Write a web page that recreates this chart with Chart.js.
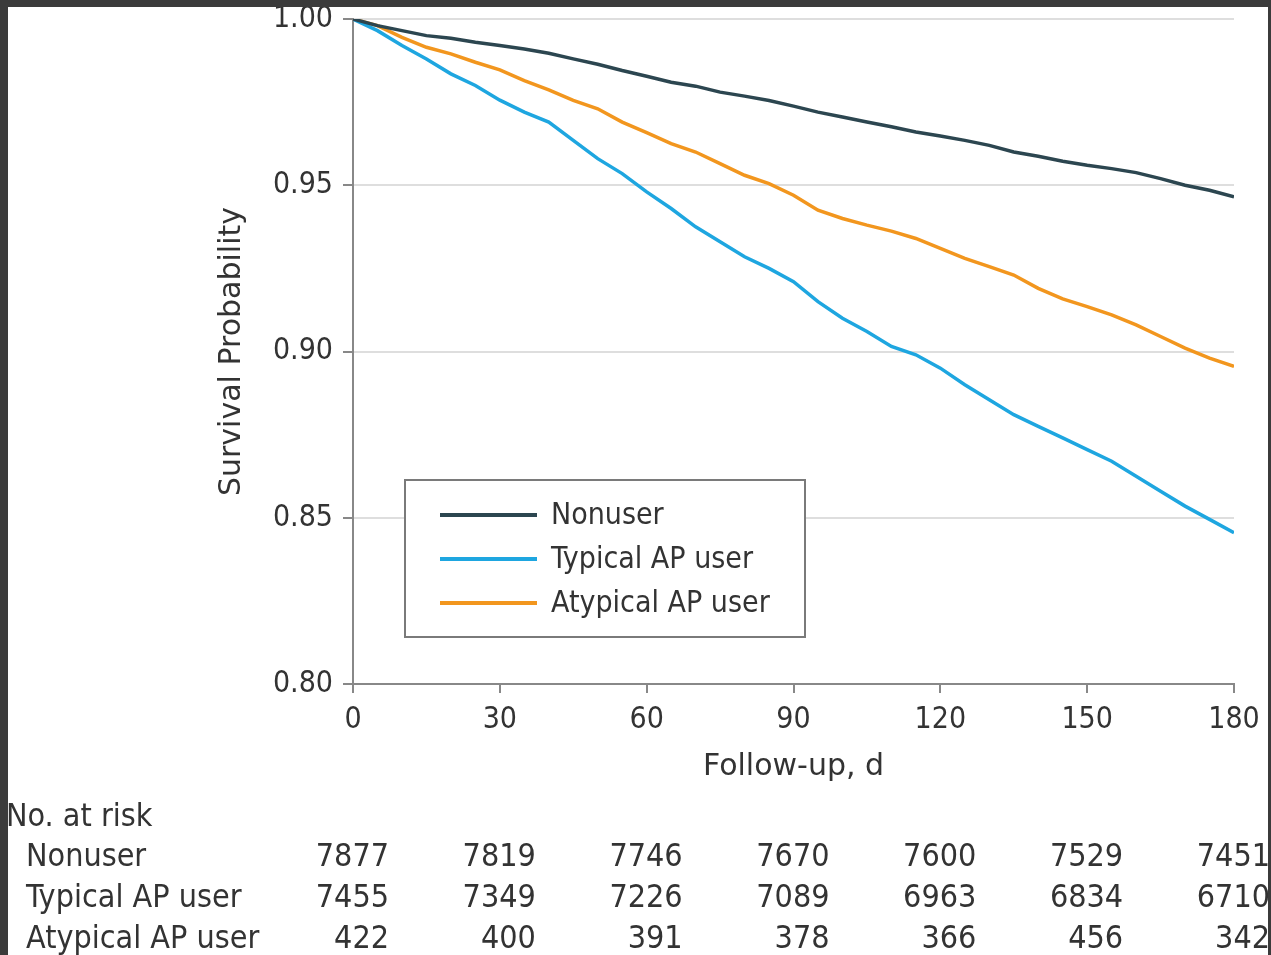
<!DOCTYPE html>
<html>
<head>
<meta charset="utf-8">
<title>Survival by antipsychotic use</title>
<script src="https://cdn.jsdelivr.net/npm/chart.js@4.4.1/dist/chart.umd.min.js"></script>
<style>
  html, body { margin: 0; padding: 0; background: #3b3b3b; }
  #panel { position: absolute; left: 8px; top: 7px; width: 1260px; height: 948px; background: #fff; overflow: hidden; }
  #km { position: absolute; left: -8px; top: -7px; }
</style>
</head>
<body>
<div id="panel"><canvas id="km" width="1271" height="955"></canvas></div>
<script>
const days = [0, 5, 10, 15, 20, 25, 30, 35, 40, 45, 50, 55, 60, 65, 70, 75, 80, 85, 90,
  95, 100, 105, 110, 115, 120, 125, 130, 135, 140, 145, 150, 155, 160, 165, 170, 175, 180];

const nonuser = [1.000, 0.998, 0.9965, 0.995, 0.9942, 0.993, 0.992, 0.991, 0.9897, 0.988,
  0.9864, 0.9845, 0.9828, 0.981, 0.9798, 0.978, 0.9768, 0.9755, 0.9738, 0.972, 0.9705,
  0.969, 0.9676, 0.966, 0.9648, 0.9635, 0.962, 0.960, 0.9587, 0.9572, 0.956, 0.955,
  0.9538, 0.952, 0.950, 0.9485, 0.9465];

const typical = [1.000, 0.9965, 0.992, 0.988, 0.9835, 0.980, 0.9756, 0.972, 0.969, 0.9635,
  0.958, 0.9535, 0.948, 0.943, 0.9375, 0.933, 0.9285, 0.925, 0.921, 0.915, 0.910,
  0.906, 0.9015, 0.899, 0.895, 0.890, 0.8855, 0.881, 0.8775, 0.874, 0.8705, 0.867,
  0.8625, 0.858, 0.8535, 0.8495, 0.8455];

const atypical = [1.000, 0.998, 0.9945, 0.9915, 0.9895, 0.987, 0.9847, 0.9815, 0.9787, 0.9755,
  0.973, 0.969, 0.9658, 0.9625, 0.960, 0.9565, 0.953, 0.9505, 0.947, 0.9425, 0.940,
  0.938, 0.9362, 0.934, 0.931, 0.928, 0.9255, 0.923, 0.919, 0.9158, 0.9135, 0.911,
  0.908, 0.9045, 0.901, 0.898, 0.8955];

// number at risk table
const riskDays = [0, 30, 60, 90, 120, 150, 180];
const riskNonuser = [7877, 7819, 7746, 7670, 7600, 7529, 7451];
const riskTypical = [7455, 7349, 7226, 7089, 6963, 6834, 6710];
const riskAtypical = [422, 400, 391, 378, 366, 456, 342];

const COND = '"DejaVu Sans Condensed", "DejaVu Sans", sans-serif';
const WIDE = '"DejaVu Sans", sans-serif';
const TEXT = "#333";

const toPoints = (vals) => days.map((d, i) => ({ x: d, y: vals[i] }));

const overlay = {
  id: "overlay",
  afterDraw(chart) {
    const ctx = chart.ctx;
    const x = chart.scales.x;
    const ds = chart.data.datasets;

    // legend box
    ctx.save();
    ctx.fillStyle = "#fff";
    ctx.fillRect(405, 480, 400, 157);
    ctx.strokeStyle = "#7a7a7a";
    ctx.lineWidth = 2;
    ctx.strokeRect(405, 480, 400, 157);
    ctx.font = "30px " + COND;
    ctx.textBaseline = "middle";
    ctx.textAlign = "left";
    ds.forEach((d, i) => {
      const y = 515 + i * 44;
      ctx.strokeStyle = d.borderColor;
      ctx.lineWidth = 4;
      ctx.beginPath();
      ctx.moveTo(440, y);
      ctx.lineTo(537, y);
      ctx.stroke();
      ctx.fillStyle = TEXT;
      ctx.fillText(d.label, 551, y + 1);
    });

    // no. at risk
    ctx.font = "32px " + COND;
    ctx.fillStyle = TEXT;
    ctx.fillText("No. at risk", 6, 818);
    const rows = [riskNonuser, riskTypical, riskAtypical];
    rows.forEach((row, r) => {
      const y = 858 + r * 41;
      ctx.textAlign = "left";
      ctx.fillText(ds[r].label, 26, y);
      ctx.textAlign = "right";
      row.forEach((n, i) => {
        ctx.fillText(String(n), x.getPixelForValue(riskDays[i]) + 36, y);
      });
    });
    ctx.restore();
  }
};

Chart.defaults.font.family = COND;
Chart.defaults.color = TEXT;

new Chart(document.getElementById("km"), {
  type: "line",
  data: {
    datasets: [
      { label: "Nonuser", data: toPoints(nonuser), borderColor: "#2c4650" },
      { label: "Typical AP user", data: toPoints(typical), borderColor: "#1ea6e0" },
      { label: "Atypical AP user", data: toPoints(atypical), borderColor: "#f2961e" }
    ]
  },
  options: {
    responsive: false,
    animation: false,
    layout: { padding: { left: 210, right: 37, top: 19, bottom: 165 } },
    elements: {
      point: { radius: 0 },
      line: { borderWidth: 3.5, tension: 0 }
    },
    plugins: {
      legend: { display: false },
      tooltip: { enabled: false }
    },
    scales: {
      x: {
        type: "linear",
        min: 0,
        max: 180,
        afterFit: (s) => { s.height = 106; },
        ticks: { stepSize: 30, padding: 9, font: { size: 30 } },
        grid: { drawOnChartArea: false, tickLength: 9, tickColor: "#888", lineWidth: 2 },
        border: { color: "#888", width: 2 },
        title: { display: true, text: "Follow-up, d", font: { size: 30, family: WIDE }, padding: { top: 0, bottom: 5 } }
      },
      y: {
        min: 0.8,
        max: 1.0,
        afterFit: (s) => { s.width = 143; s.paddingTop = 0; s.paddingBottom = 0; },
        ticks: { stepSize: 0.05, padding: 10, font: { size: 30 }, callback: (v) => v.toFixed(2) },
        grid: { color: "#dedede", lineWidth: 2, tickLength: 10, tickColor: "#888" },
        border: { color: "#888", width: 2 },
        title: { display: true, text: "Survival Probability", font: { size: 30, family: WIDE }, padding: { top: 4, bottom: 0 } }
      }
    }
  },
  plugins: [overlay]
});
</script>
</body>
</html>
